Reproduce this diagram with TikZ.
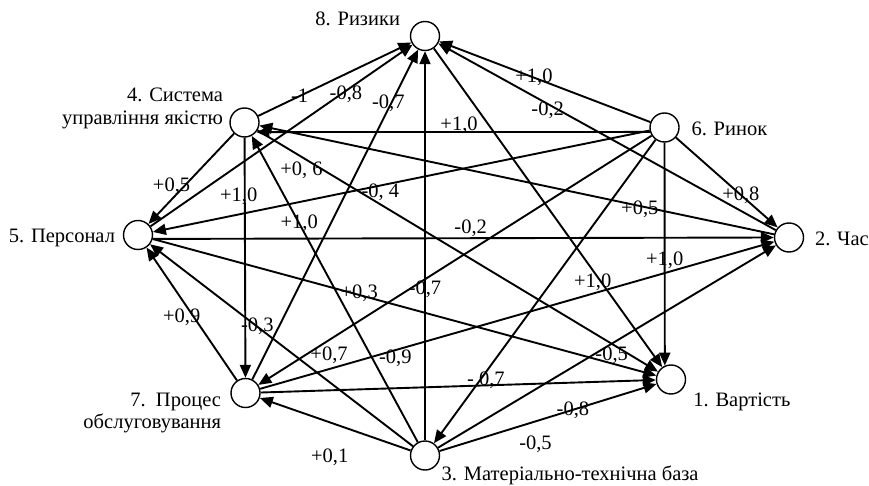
\documentclass[tikz,border=0pt]{standalone}
\usepackage{fontspec}
\setmainfont{Liberation Serif}
\usetikzlibrary{arrows.meta, positioning}

\begin{document}
\begin{tikzpicture}[
  x=1pt, y=-1pt,
  font=\fontsize{20.5}{22.5}\selectfont,
  factor/.style={circle, draw, line width=1.4pt, minimum size=29pt, inner sep=0pt},
  ftext/.style={inner sep=0pt, outer sep=0pt},
  link/.style={line width=1.9pt, -{Triangle[length=13pt, width=11pt]}},
  coef/.style={inner sep=0pt}
  ]
\useasboundingbox (0,0) rectangle (869,486);

% Factors
\node[factor] (cost) at (671,379.5) {};
\node[factor] (time) at (789,237.5) {};
\node[factor] (base) at (425,455.5) {};
\node[factor] (quality) at (244.5,122.5) {};
\node[factor] (staff) at (138,235) {};
\node[factor] (market) at (664.5,127.5) {};
\node[factor] (service) at (245.5,393) {};
\node[factor] (risks) at (425,36) {};

% Factor names
\node[ftext, anchor=base west] (costtext) at ([xshift=22.3pt, yshift=-27.2pt]cost.center) {1. Вартість};
\node[ftext, anchor=base west] (timetext) at ([xshift=26pt, yshift=-7.5pt]time.center) {2. Час};
\node[ftext, anchor=base west] (basetext) at ([xshift=16.7pt, yshift=-25pt]base.center) {3. Матеріально-технічна база};
\node[ftext, anchor=north east, align=right] (qualitytext) at ([xshift=-21.5pt, yshift=34.5pt]quality.center) {4. Система\\управління якістю};
\node[ftext, anchor=base east] (stafftext) at ([xshift=-23pt, yshift=-7.5pt]staff.center) {5. Персонал};
\node[ftext, anchor=base west] (markettext) at ([xshift=27pt, yshift=-8.5pt]market.center) {6. Ринок};
\node[ftext, anchor=north east, align=right] (servicetext) at ([xshift=-24.5pt]service.center) {7.\ \ Процес\\обслуговування};
\node[ftext, anchor=base east] (riskstext) at ([xshift=-25pt, yshift=10pt]risks.center) {8. Ризики};

% Links into risks
\draw[link] (quality) -- node[coef, pos=.27] {-1} (risks);
\draw[link] (staff) -- node[coef, pos=.746, yshift=-3pt] {-0,8} (risks);
\draw[link] (service) -- node[coef, pos=.838, xshift=-3pt] {-0,7} (risks);
\draw[link] (base) -- node[coef, pos=.387] {-0,7} (risks);
\draw[link] (market) -- node[coef, pos=.551] {+1,0} (risks);
\draw[link] (time) -- node[coef, pos=.667, xshift=-3pt, yshift=-5pt] {-0,2} (risks);
\draw[link] (risks) -- node[coef, pos=.722, xshift=-6pt, yshift=-4pt] {+1,0} (cost);

% Links from market
\draw[link] (market.197) -- node[coef, pos=.485, yshift=7pt] {+1,0} (quality.-39);
\draw[link] (market) -- node[coef, pos=.639] {+0,8} (time);
\draw[link] (market) -- node[coef, pos=.542, yshift=-7pt] {-0, 4} (staff);
\draw[link] (market) -- node[coef, pos=.838, xshift=7pt, yshift=-11pt] {+0,7} (service);
\draw[link] (market) -- (base);
\draw[link] (market.south) -- node[coef, pos=.529] {+1,0} (cost.114);

% Links from quality system and time
\draw[link] (quality) -- node[coef, pos=.648, xshift=-7pt, yshift=6pt] {+0,5} (staff);
\draw[link] (quality) -- node[coef, pos=.242, xshift=-6pt] {+1,0} (service);
\draw[link] (quality) -- node[coef, pos=.125, xshift=-6pt, yshift=-10pt] {+0, 6} (cost);
\draw[link] (time) -- node[coef, pos=.261, yshift=-3pt] {+0,5} (quality);

% Links from staff
\draw[link] (staff.-15) -- node[coef, pos=.512, yshift=10pt] {-0,2} (time.west);
\draw[link] (staff) -- node[coef, pos=.41, yshift=2pt] {+0,3} (cost);

% Links from service
\draw[link] (service) -- node[coef, pos=.522, xshift=-8pt, yshift=-6pt] {+0,9} (staff);
\draw[link] (service) -- node[coef, pos=.259, xshift=2pt, yshift=-8pt] {-0,9} (time);
\draw[link] (service) -- node[coef, pos=.57, yshift=5pt] {- 0,7} (cost);

% Links from material base
\draw[link] (base) -- node[coef, pos=.714] {+1,0} (quality);
\draw[link] (base) -- node[coef, pos=.592] {-0,3} (staff);
\draw[link] (base) -- node[coef, pos=.464, xshift=-11pt, yshift=-31pt] {+0,1} (service);
\draw[link] (base) -- node[coef, pos=.499, xshift=5pt, yshift=-9pt] {-0,5} (time);
\draw[link] (base) -- node[coef, pos=.615] {-0,8} node[coef, pos=.41, xshift=7pt, yshift=-21pt] {-0,5} (cost);
\end{tikzpicture}
\end{document}
